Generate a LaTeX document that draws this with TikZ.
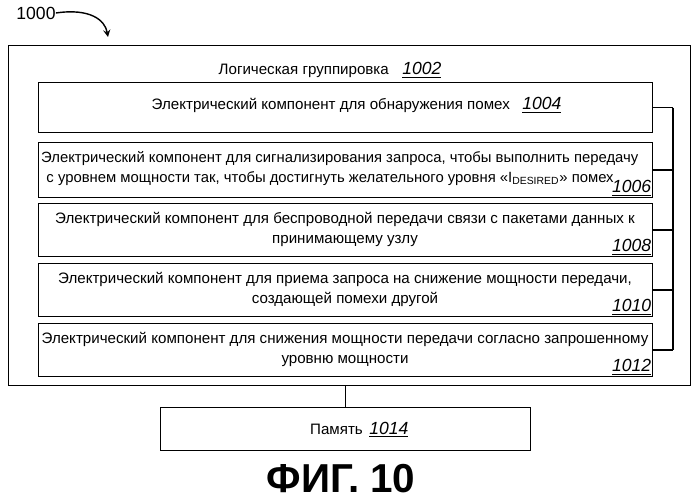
\documentclass[tikz,border=0pt]{standalone}
\usepackage{fontspec}
\setmainfont{Liberation Sans}
\usetikzlibrary{positioning}
\newcommand{\refnum}[1]{\underline{\textit{#1}}}
\begin{document}
\begin{tikzpicture}[x=0.02cm,y=-0.02cm,
        box/.style={rectangle, draw, line width=0.8pt, minimum width=12.28cm, anchor=north west, inner sep=0pt},
        txt/.style={align=center, font=\fontsize{8.6}{11.5}\selectfont},
        num/.style={anchor=south east, inner sep=1pt, font=\fontsize{10}{11}\selectfont}
    ]
        \useasboundingbox (0,0) rectangle (699,499);
        % Outer group
        \node[draw, line width=0.8pt, minimum width=13.64cm, minimum height=6.8cm, anchor=north west, inner sep=0pt] (group) at (8,45) {};
        \node[txt, anchor=base east] (grouptitle) at (395,75) {Логическая группировка};
        \node[num, anchor=base west, inner sep=0pt] (groupnum) at (402,75) {\refnum{1002}};

        % Components
        \node[box, minimum height=1cm] (c1004) at (38,82) {};
        \node[txt, anchor=base east] (t1004) at (516,110) {Электрический компонент для обнаружения помех};
        \node[num, anchor=base west, inner sep=0pt] at (522,110) {\refnum{1004}};

        \node[box, minimum height=1.1cm] (c1006) at (38,142) {};
        \node[txt, anchor=north west, align=left, font=\fontsize{8.45}{11.5}\selectfont] (t1006) at (35,145) {Электрический компонент для сигнализирования запроса, чтобы выполнить передачу\\\hspace*{3pt}с уровнем мощности так, чтобы достигнуть желательного уровня «I\textsubscript{DESIRED}» помех};
        \node[num] at (c1006.south east) {\refnum{1006}};

        \node[box, minimum height=1.06cm] (c1008) at (38,203) {};
        \node[txt, anchor=north] (t1008) at (345,206) {Электрический компонент для беспроводной передачи связи с пакетами данных к\\принимающему узлу};
        \node[num] at (c1008.south east) {\refnum{1008}};

        \node[box, minimum height=1.06cm] (c1010) at (38,263) {};
        \node[txt, anchor=north] (t1010) at (345,266) {Электрический компонент для приема запроса на снижение мощности передачи,\\создающей помехи другой};
        \node[num] at (c1010.south east) {\refnum{1010}};

        \node[box, minimum height=1.06cm] (c1012) at (38,323) {};
        \node[txt, anchor=north] (t1012) at (345,326) {Электрический компонент для снижения мощности передачи согласно запрошенному\\уровню мощности};
        \node[num] at (c1012.south east) {\refnum{1012}};

        % Bracket
        \coordinate (bus) at (673,0);
        \foreach \c in {c1004,c1006,c1008,c1010,c1012}
            \draw[line width=0.8pt] (\c.east) -- (\c.east -| bus);
        \draw[line width=0.8pt] (c1004.east -| bus) -- (c1012.east -| bus);

        % Memory
        \node[draw, line width=0.8pt, minimum width=7.4cm, minimum height=0.86cm, anchor=north west, inner sep=0pt] (mem) at (160,407) {};
        \node[txt, anchor=base east] (memtxt) at (369,434) {Память};
        \node[num, anchor=base west, inner sep=0pt] at (369,434) {\refnum{1014}};
        \draw[line width=0.8pt] (group.south -| mem) -- (mem.north);

        % Figure label
        \node[font=\bfseries\fontsize{23}{25}\selectfont, inner sep=0pt] (fig) at (341,479) {ФИГ. 10};
        \node[font=\fontsize{10}{11}\selectfont, inner sep=0pt] (n1000) at (36,13) {1000};
        \draw[->, >=stealth, thick] (n1000.east) .. controls (90,8) and (105,20) .. (108,37);
    \end{tikzpicture}
\end{document}
